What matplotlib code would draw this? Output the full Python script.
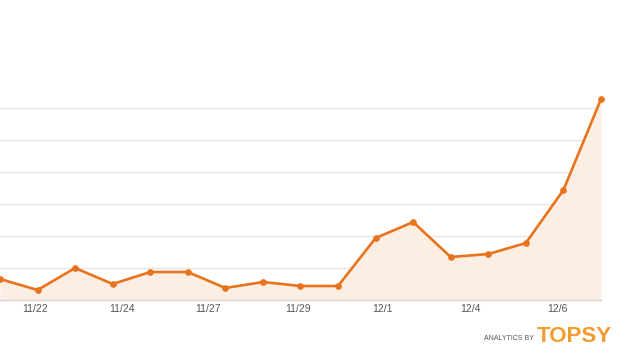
import numpy as np
import matplotlib.pyplot as plt

# daily counts 11/21 .. 12/7
days = ["11/21", "11/22", "11/23", "11/24", "11/25", "11/26", "11/27", "11/28",
        "11/29", "11/30", "12/1", "12/2", "12/3", "12/4", "12/5", "12/6", "12/7"]
counts = [5.25, 2.5, 8, 4, 7, 7, 3, 4.5, 3.5, 3.5, 15.5, 19.5, 10.75, 11.5, 14.25, 27.5, 50.25]

tick_labels = ["11/22", "11/24", "11/27", "11/29", "12/1", "12/4", "12/6"]
tick_pos = [0.93, 3.24, 5.53, 7.93, 10.19, 12.53, 14.84]
grid_vals = [8, 16, 24, 32, 40, 48]

line_col = "#E8731C"
fill_col = "#FDEEE4"

plt.rcParams["font.family"] = ["Liberation Sans", "DejaVu Sans"]

fig = plt.figure(figsize=(6.4, 3.61), dpi=100)
ax = fig.add_axes([0.0, 0.169, 0.939, 0.62])

x = np.arange(len(days))
ax.fill_between(x, counts, 0, color=fill_col, lw=0, zorder=1)
ax.plot(x, counts, color=line_col, lw=1.9, marker="o", ms=3.8, zorder=3, clip_on=False)

ax.set_xlim(0, 16)
ax.set_ylim(0, 56)
ax.set_yticks(grid_vals)
ax.yaxis.grid(True, color="#E6E6E6", lw=1)
ax.set_axisbelow(True)
ax.tick_params(axis="y", left=False, labelleft=False)

ax.set_xticks(tick_pos)
ax.set_xticklabels(tick_labels, fontsize=7.5, color="#555555")
ax.tick_params(axis="x", length=0, pad=3)

for s in ["top", "right", "left"]:
    ax.spines[s].set_visible(False)
ax.spines["bottom"].set_color("#D5D5D5")
ax.spines["bottom"].set_linewidth(1)

fig.text(484 / 640, 1 - 338 / 361, "ANALYTICS BY", fontsize=5, color="#555555",
         va="center", ha="left")
fig.text(537 / 640, 1 - 342 / 361, "TOPSY", fontsize=16, fontweight="bold",
         color="#F39B2C", va="baseline", ha="left")

fig.savefig("out.png", dpi=100)
